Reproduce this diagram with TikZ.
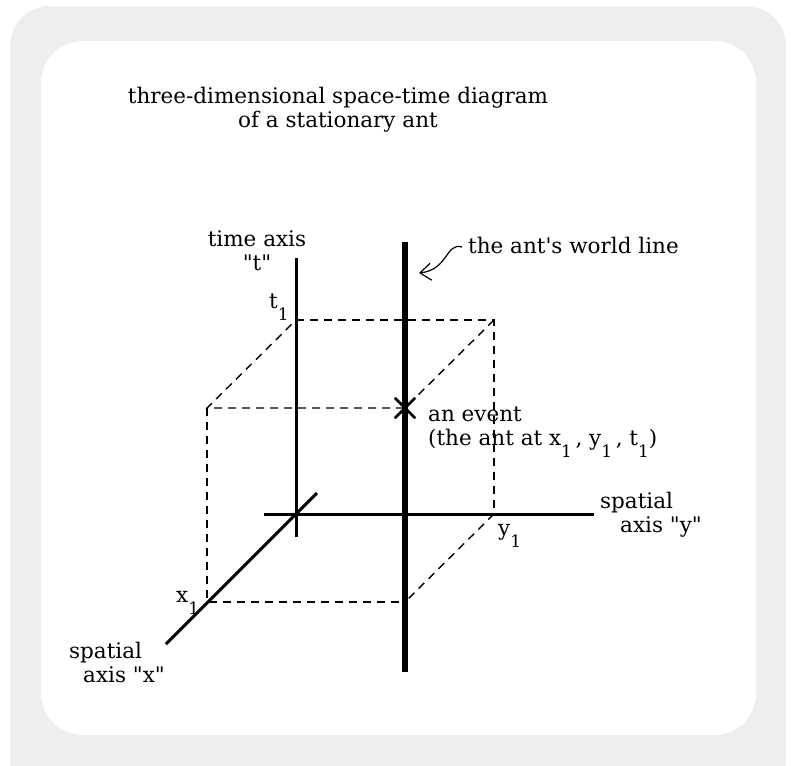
\documentclass[tikz,border=0pt]{standalone}
\usepackage{fontspec}
\setmainfont{DejaVu Serif}[Ligatures=TeXOff]
\usetikzlibrary{arrows.meta, shapes.misc}
\colorlet{linecolor}{black}
\definecolor{framefill}{HTML}{EEEEEE}
\newcommand{\idx}[1]{\raisebox{-12pt}{\fontsize{17}{17}\selectfont #1}}
\tikzset{
  axis/.style={draw=linecolor, line width=3pt},
  worldline/.style={draw=linecolor, line width=6pt},
  guide/.style={draw=linecolor, line width=1.4pt, dash pattern=on 8pt off 6pt},
  label/.style={font=\fontsize{21.5}{24}\selectfont, inner sep=0pt, align=left},
  eventmark/.style={cross out, draw=linecolor, line width=2.5pt, minimum size=18pt, inner sep=0pt},
  arr/.style={-{Straight Barb[length=11pt,width=17pt]}, line width=1.2pt, draw=linecolor}
}

\begin{document}
\begin{tikzpicture}[x=1pt, y=-1pt]
\useasboundingbox (0,0) rectangle (793,766);
\fill[framefill, rounded corners=40pt] (10,6) rectangle (786,800);
\fill[white, rounded corners=42pt] (41,41) rectangle (756,735);

\coordinate (origin) at (296,514);
\coordinate (t1) at (296,320);
\coordinate (x1) at (207,602);
\coordinate (y1) at (494,514);
\coordinate (tx) at (207,408);
\coordinate (ty) at (494,320);
\coordinate (xy) at (405,602);
\coordinate (event) at (405,408);

\coordinate (ttop) at (296,258);
\coordinate (tbot) at (296,537);
\coordinate (yleft) at (264,514);
\coordinate (yright) at (594,514);
\coordinate (xfar) at (317,493);
\coordinate (xnear) at (166,644);
\coordinate (wtop) at (405,242);
\coordinate (wbot) at (405,672);

\draw[guide] (t1) -- (ty) -- (y1);
\draw[guide] (ty) -- (event) -- (tx) -- (t1);
\draw[guide] (tx) -- (x1) -- (xy);
\draw[guide] (y1) -- (xy);

\draw[axis] (ttop) -- (tbot);
\draw[axis] (yleft) -- (yright);
\draw[axis] (xfar) -- (xnear);
\draw[worldline] (wtop) -- (wbot);
\node[eventmark] (eventx) at (event) {};

\node[label, anchor=base] (title) at (338,103) {three-dimensional space-time diagram};
\node[label, anchor=base] (subtitle) at (338,127) {of a stationary ant};

\node[label, align=center, anchor=base] (taxis) at (257,270) {time axis\\"t"};
\node[label, anchor=base west] (wlabel) at (468,253) {the ant's world line};
\node[label, anchor=base west] (t1label) at (269,308) {t\idx{1}};
\node[label, anchor=base west] (eventlabel) at (428,445) {an event\\(the ant at x\idx{1}\,, y\idx{1}\,, t\idx{1})};
\node[label, anchor=base west] (yaxis) at (600,532) {spatial\\\hspace*{20pt}axis "y"};
\node[label, anchor=base west] (y1label) at (498,535) {y\idx{1}};
\node[label, anchor=base west] (x1label) at (176,602) {x\idx{1}};
\node[label, anchor=base west] (xaxis) at (69,682) {spatial\\\hspace*{14pt}axis "x"};

\coordinate (arrstart) at (462,247);
\coordinate (arrtip) at (419,273);
\draw[arr] (arrstart) .. controls (446,242) and (448,270) .. (arrtip);

\end{tikzpicture}
\end{document}
